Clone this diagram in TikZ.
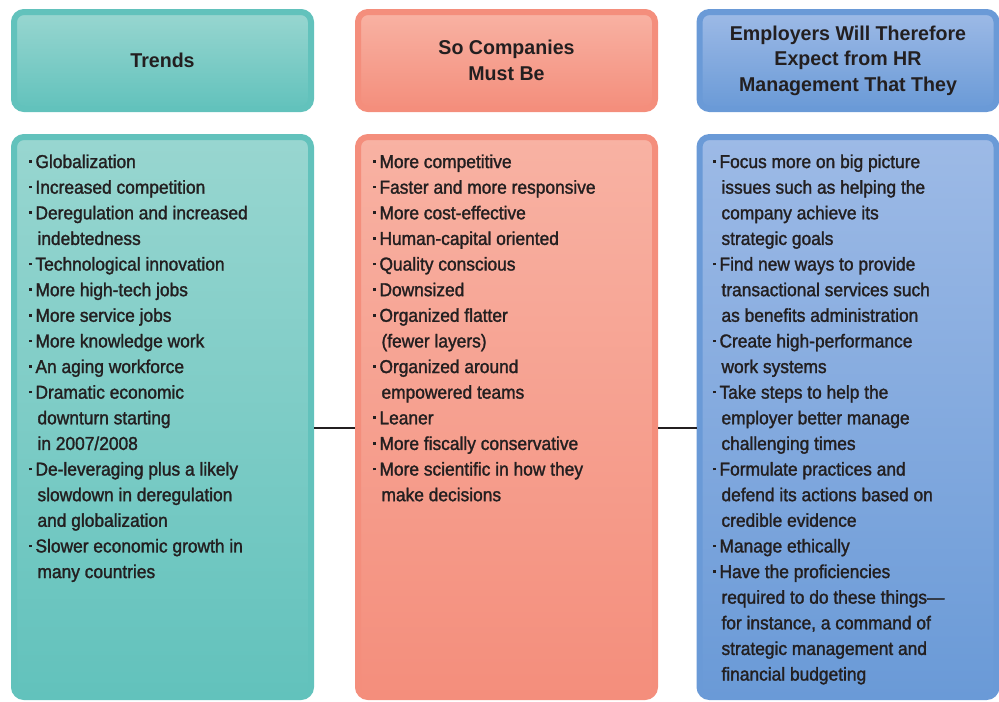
\documentclass[tikz,border=0pt]{standalone}
\usepackage{fontspec}
\setmainfont{Liberation Sans}
\newfontfamily\listfont[FakeStretch=0.93,FakeBold=1.5]{Liberation Sans}
\newfontfamily\headfont[FakeStretch=0.98]{Liberation Sans}
\usetikzlibrary{positioning}

\definecolor{inkdark}{HTML}{231F20}
\definecolor{teal}{HTML}{62C2BC}
\definecolor{tealtop}{HTML}{98D6D0}
\definecolor{salmon}{HTML}{F48E7C}
\definecolor{salmontop}{HTML}{F8B2A3}
\definecolor{steel}{HTML}{6A9AD7}
\definecolor{steeltop}{HTML}{9DBAE6}

\tikzset{every picture/.style={line width=0.75pt}}
\tikzset{
  headbox/.style={draw=#1, line width=4.5pt, rounded corners=7.5pt,
    minimum width=222.75pt, minimum height=72.75pt, align=center,
    top color=#1top, middle color=#1top, bottom color=#1, text=inkdark,
    font=\headfont\bfseries\fontsize{15}{19.1}\selectfont},
  bodybox/.style={draw=#1, line width=4.5pt, rounded corners=7.5pt,
    minimum width=222.75pt, minimum height=420pt,
    top color=#1top, bottom color=#1},
  listtext/.style={anchor=north west, inner sep=0pt, align=left, text=inkdark,
    font=\listfont\fontsize{14}{19.22}\selectfont},
  link/.style={draw=inkdark, line width=1.5pt}
}
\newcommand\bul{\makebox[0pt][r]{\rule[0.28em]{2pt}{2pt}\hspace{2.8pt}}}
\newcommand\cnt{\hspace*{1.5pt}}

\begin{document}
\begin{tikzpicture}[x=0.75pt,y=0.75pt,yscale=-1,xscale=1]
	\useasboundingbox (0,0) rectangle (999,701);

	% Header boxes
	\node[headbox=teal] (trendsHead) at (162.5,60.5) {Trends};
	\node[headbox=salmon] (mustHead) at (506.5,60.5) {So Companies\\Must Be};
	\node[headbox=steel] (expectHead) at (848,60.5) {Employers Will Therefore\\Expect from HR\\Management That They};

	% Body boxes
	\node[bodybox=teal] (trendsBody) at (162.5,417) {};
	\node[bodybox=salmon] (mustBody) at (506.5,417) {};
	\node[bodybox=steel] (expectBody) at (848,417) {};

	% Connector lines
	\coordinate (linkY) at (0,428);
	\draw[link] (trendsBody.east |- linkY) -- (mustBody.west |- linkY);
	\draw[link] (mustBody.east |- linkY) -- (expectBody.west |- linkY);

	% Text Node
	\node[listtext] (trendsList) at (35,154) {\bul Globalization\\
		\bul Increased competition\\
		\bul Deregulation and increased\\
		\cnt indebtedness\\
		\bul Technological innovation\\
		\bul More high-tech jobs\\
		\bul More service jobs\\
		\bul More knowledge work\\
		\bul An aging workforce\\
		\bul Dramatic economic\\
		\cnt downturn starting\\
		\cnt in 2007/2008\\
		\bul De-leveraging plus a likely\\
		\cnt slowdown in deregulation\\
		\cnt and globalization\\
		\bul Slower economic growth in\\
		\cnt many countries};
	% Text Node
	\node[listtext] (mustList) at (379,154) {\bul More competitive\\
		\bul Faster and more responsive\\
		\bul More cost-effective\\
		\bul Human-capital oriented\\
		\bul Quality conscious\\
		\bul Downsized\\
		\bul Organized flatter\\
		\cnt (fewer layers)\\
		\bul Organized around\\
		\cnt empowered teams\\
		\bul Leaner\\
		\bul More fiscally conservative\\
		\bul More scientific in how they\\
		\cnt make decisions};
	% Text Node
	\node[listtext] (expectList) at (719,154) {\bul Focus more on big picture\\
		\cnt issues such as helping the\\
		\cnt company achieve its\\
		\cnt strategic goals\\
		\bul Find new ways to provide\\
		\cnt transactional services such\\
		\cnt as benefits administration\\
		\bul Create high-performance\\
		\cnt work systems\\
		\bul Take steps to help the\\
		\cnt employer better manage\\
		\cnt challenging times\\
		\bul Formulate practices and\\
		\cnt defend its actions based on\\
		\cnt credible evidence\\
		\bul Manage ethically\\
		\bul Have the proficiencies\\
		\cnt required to do these things—\\
		\cnt for instance, a command of\\
		\cnt strategic management and\\
		\cnt financial budgeting};

\end{tikzpicture}
\end{document}
